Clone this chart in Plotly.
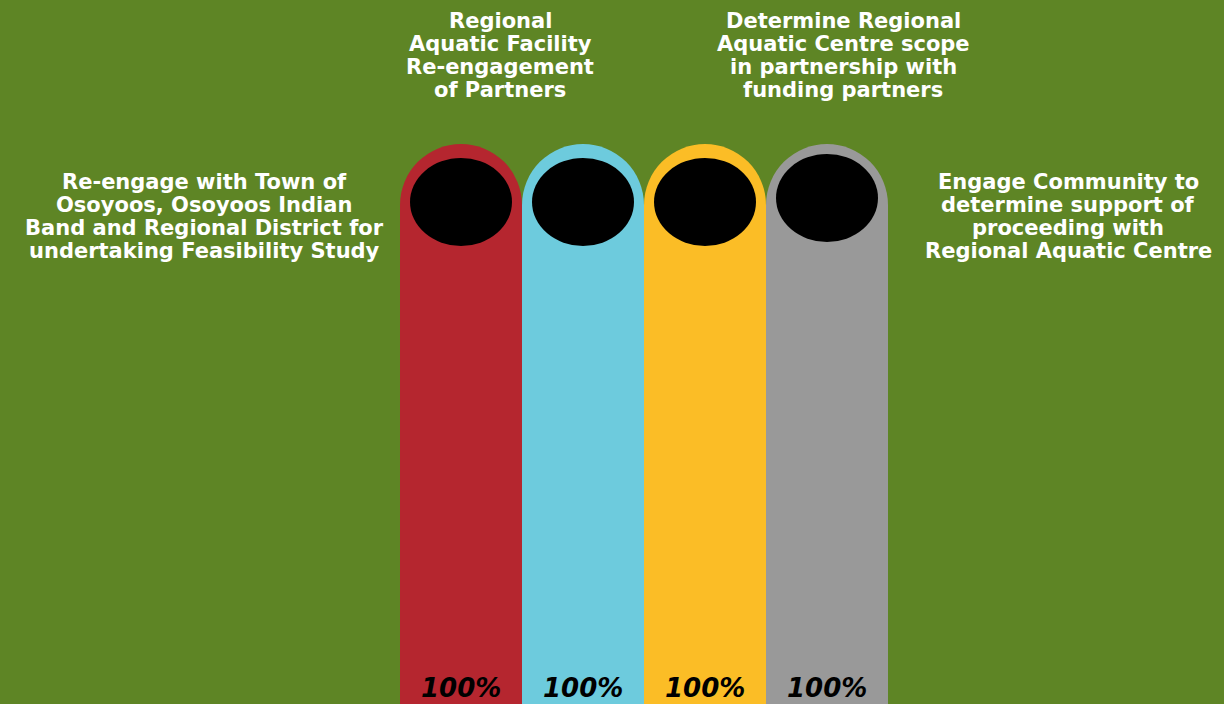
import plotly.graph_objects as go

categories = ["Re-engage", "Regional Aquatic Facility", "Determine scope", "Engage Community"]
values = [100, 100, 100, 100]
pct_labels = ["100%", "100%", "100%", "100%"]
colors = ["#b5262f", "#6dcbdd", "#fbbd26", "#999999"]
captions = [
    ["Re-engage with Town of", "Osoyoos, Osoyoos Indian", "Band and Regional District for", "undertaking Feasibility Study"],
    ["Regional", "Aquatic Facility", "Re-engagement", "of Partners"],
    ["Determine Regional", "Aquatic Centre scope", "in partnership with", "funding partners"],
    ["Engage Community to", "determine support of", "proceeding with", "Regional Aquatic Centre"],
]

W, H = 1224, 704
BG = "#5e8525"
bar_px = 122.0
left_px = 400.0
x_lo = -0.5 - left_px / bar_px
x_hi = x_lo + W / bar_px
top_px = 205.0
py = (H - top_px) / 100.0
y_hi = H / py

xs = list(range(len(categories)))
fig = go.Figure()
fig.add_trace(go.Bar(
    x=xs, y=values, width=1.0, marker=dict(color=colors, line=dict(width=0)),
    hoverinfo="skip",
))

shapes = []
r_y = (bar_px / 2) / py
for i, v in enumerate(values):
    shapes.append(dict(type="circle", xref="x", yref="y", x0=i - 0.5, x1=i + 0.5,
                       y0=v - r_y, y1=v + r_y, fillcolor=colors[i], line=dict(width=0), layer="below"))
    ex = 51 / bar_px
    ey = 44 / py
    cy = v + (3 / py if i < 3 else 7 / py)
    shapes.append(dict(type="circle", xref="x", yref="y", x0=i - ex, x1=i + ex,
                       y0=cy - ey, y1=cy + ey, fillcolor="black", line=dict(width=0), layer="above"))
fig.update_layout(shapes=shapes)

for i, lab in enumerate(pct_labels):
    fig.add_annotation(x=xs[i], y=1 - 688 / H, xref="x", yref="paper", text=lab, showarrow=False,
                       xanchor="center", yanchor="middle",
                       font=dict(family="DejaVu Sans", size=26, color="black", style="italic", weight="bold"))

cap_pos = [(204, 182), (500, 21), (843, 21), (1068, 182)]
line_step = 23.0
for (cx, cy0), lines in zip(cap_pos, captions):
    for k, txt in enumerate(lines):
        fig.add_annotation(x=cx / W, y=1 - (cy0 + k * line_step) / H, xref="paper", yref="paper", text=txt,
                           showarrow=False, align="center", xanchor="center", yanchor="middle",
                           font=dict(family="DejaVu Sans", size=21, color="white", weight="bold"))

fig.update_layout(
    width=W, height=H, margin=dict(l=0, r=0, t=0, b=0),
    paper_bgcolor=BG, plot_bgcolor=BG, showlegend=False, bargap=0,
    xaxis=dict(range=[x_lo, x_hi], visible=False, fixedrange=True),
    yaxis=dict(range=[0, y_hi], visible=False, fixedrange=True),
)
fig.write_html("out.html", config={"displayModeBar": False},
               post_script="document.body.style.margin='0';document.body.style.background='" + BG + "';")
